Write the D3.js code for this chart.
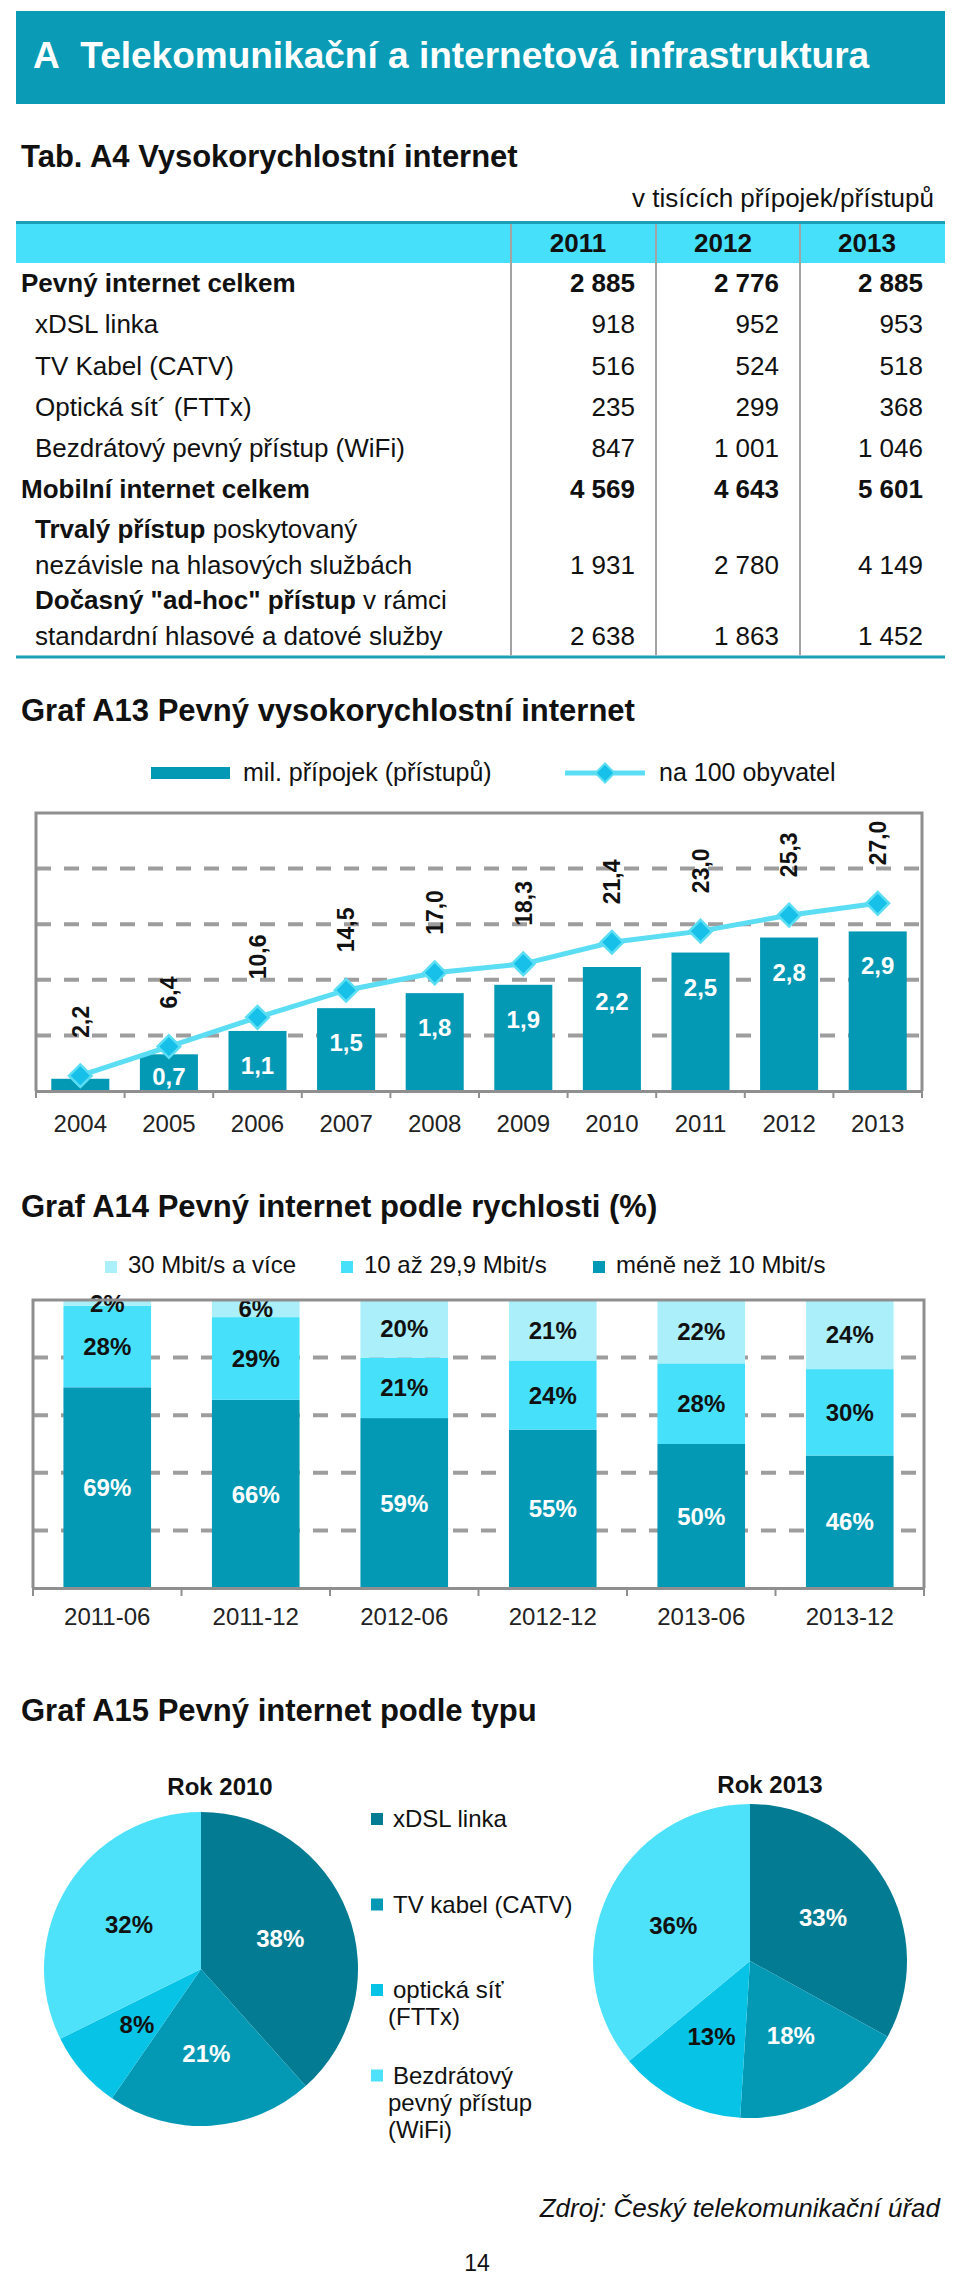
<!DOCTYPE html>
<html><head><meta charset="utf-8">
<script src="https://cdn.jsdelivr.net/npm/d3@7"></script>
<style>
body{margin:0;background:#fff;}
svg{display:block;font-family:"Liberation Sans",Arial,Helvetica,sans-serif;}
</style></head><body>
<svg id="page" width="960" height="2278"></svg>
<script>
// ---------- DATA ----------
// Tab. A4 (v tisících přípojek/přístupů)
const tableYears = ["2011", "2012", "2013"];
const tableLabels = [
  "Pevný internet celkem",
  "xDSL linka",
  "TV Kabel (CATV)",
  "Optická sít´ (FTTx)",
  "Bezdrátový pevný přístup (WiFi)",
  "Mobilní internet celkem",
  "**Trvalý přístup** poskytovaný|nezávisle na hlasových službách",
  "**Dočasný \"ad-hoc\" přístup** v rámci|standardní hlasové a datové služby"
];
const fixedTotal = [2885, 2776, 2885];
const xdslLine = [918, 952, 953];
const catvCable = [516, 524, 518];
const fttxOptic = [235, 299, 368];
const wifiFixed = [847, 1001, 1046];
const mobileTotal = [4569, 4643, 5601];
const mobilePermanent = [1931, 2780, 4149];
const mobileAdhoc = [2638, 1863, 1452];
const tableValues = [fixedTotal, xdslLine, catvCable, fttxOptic, wifiFixed, mobileTotal, mobilePermanent, mobileAdhoc];
const totalRows = [0, 5];

// Graf A13
const a13Years = ["2004","2005","2006","2007","2008","2009","2010","2011","2012","2013"];
const a13ConnMil = [0.22, 0.66, 1.08, 1.49, 1.76, 1.91, 2.23, 2.49, 2.76, 2.87];
const a13Per100 = [2.2, 6.4, 10.6, 14.5, 17.0, 18.3, 21.4, 23.0, 25.3, 27.0];
const a13Legend = ["mil. přípojek (přístupů)", "na 100 obyvatel"];

// Graf A14
const a14Periods = ["2011-06","2011-12","2012-06","2012-12","2013-06","2013-12"];
const a14Slow = [69, 66, 59, 55, 50, 46];   // méně než 10 Mbit/s
const a14Mid = [28, 29, 21, 24, 28, 30];    // 10 až 29,9 Mbit/s
const a14Fast = [2, 6, 20, 21, 22, 24];     // 30 Mbit/s a více
const a14LegendNames = ["30 Mbit/s a více", "10 až 29,9 Mbit/s", "méně než 10 Mbit/s"];

// Graf A15
const a15LegendLines = [["xDSL linka"], ["TV kabel (CATV)"], ["optická síť", "(FTTx)"], ["Bezdrátový", "pevný přístup", "(WiFi)"]];
const a15Share2010 = [38, 21, 8, 32];
const a15Share2013 = [33, 18, 13, 36];
const a15Titles = ["Rok 2010", "Rok 2013"];

// ---------- STYLE ----------
const TEAL = "#0a9cb6", BAR = "#0399b5", CYAN = "#47e0fa", LIGHT = "#aaeff9";
const LINE = "#5bddf4", DIAM = "#16c0e8";
const PIE_COLORS = ["#037b92", "#0399b5", "#07c3e5", "#4de1fa"];
const GRID = "#9d9d9d", BORDER = "#8f8f8f", TXT = "#111";

const svg = d3.select("#page");
const loc = d3.formatLocale({decimal: ",", thousands: "\u00a0", grouping: [3], currency: ["", ""]});
const fmtInt = loc.format(",d");
const fmt1 = loc.format(".1f");

// ---------- HEADER ----------
svg.append("rect").attr("x", 16).attr("y", 11).attr("width", 929).attr("height", 93).attr("fill", TEAL);
svg.append("text").attr("x", 33).attr("y", 68).attr("fill", "#fff").attr("font-size", 37).attr("font-weight", "bold")
  .text("A\u00a0\u00a0Telekomunikační a internetová infrastruktura");

// ---------- TABLE ----------
svg.append("text").attr("x", 21).attr("y", 167).attr("font-size", 31).attr("font-weight", "bold").attr("fill", TXT)
  .text("Tab. A4 Vysokorychlostní internet");
svg.append("text").attr("x", 934).attr("y", 207).attr("text-anchor", "end").attr("font-size", 26).attr("fill", TXT)
  .text("v tisících přípojek/přístupů");

const tTop = 221, tBottom = 657;
svg.append("rect").attr("x", 16).attr("y", tTop).attr("width", 929).attr("height", 42).attr("fill", CYAN);
svg.append("line").attr("x1", 16).attr("x2", 945).attr("y1", tTop + 1.5).attr("y2", tTop + 1.5).attr("stroke", "#1b9fb6").attr("stroke-width", 3);
svg.append("line").attr("x1", 16).attr("x2", 945).attr("y1", tBottom).attr("y2", tBottom).attr("stroke", "#1b9fb6").attr("stroke-width", 3);
const colSep = [511, 656, 800];
svg.selectAll(".colsep").data(colSep).join("line").attr("class", "colsep")
  .attr("x1", d => d).attr("x2", d => d).attr("y1", tTop + 3).attr("y2", tBottom - 1.5)
  .attr("stroke", "#a3a3a3").attr("stroke-width", 2);
const colCenter = [578, 723, 867], colRight = [635, 779, 923];
svg.selectAll(".colhead").data(tableYears).join("text").attr("class", "colhead")
  .attr("x", (d, i) => colCenter[i]).attr("y", 252).attr("text-anchor", "middle")
  .attr("font-size", 26).attr("font-weight", "bold").attr("fill", TXT).text(d => d);

const rowBase = [292, 333, 375, 416, 457, 498, 574, 645];
tableLabels.forEach((lab, r) => {
  const isTotal = totalRows.includes(r);
  const lines = lab.split("|");
  lines.forEach((ln, li) => {
    const y = rowBase[r] - (lines.length - 1 - li) * 36;
    const t = svg.append("text").attr("x", isTotal ? 21 : 35).attr("y", y).attr("font-size", 26).attr("fill", TXT)
      .attr("xml:space", "preserve").style("white-space", "pre");
    const parts = ln.split("**");
    parts.forEach((p, pi) => {
      if (!p) return;
      t.append("tspan").attr("font-weight", (isTotal || pi % 2 === 1) ? "bold" : "normal").text(p);
    });
  });
  tableValues[r].forEach((v, c) => {
    svg.append("text").attr("x", colRight[c]).attr("y", rowBase[r]).attr("text-anchor", "end")
      .attr("font-size", 26).attr("font-weight", isTotal ? "bold" : "normal").attr("fill", TXT).text(fmtInt(v));
  });
});

// ---------- GRAF A13 ----------
svg.append("text").attr("x", 21).attr("y", 721).attr("font-size", 31).attr("font-weight", "bold").attr("fill", TXT)
  .text("Graf A13 Pevný vysokorychlostní internet");
// legend
svg.append("rect").attr("x", 151).attr("y", 767).attr("width", 79).attr("height", 12).attr("fill", BAR);
svg.append("text").attr("x", 243).attr("y", 781).attr("font-size", 25).attr("fill", TXT).text(a13Legend[0]);
svg.append("line").attr("x1", 565).attr("x2", 645).attr("y1", 773).attr("y2", 773).attr("stroke", LINE).attr("stroke-width", 5);
svg.append("path").attr("d", d3.symbol(d3.symbolSquare, 180)()).attr("transform", "translate(605,773) rotate(45)")
  .attr("fill", DIAM).attr("stroke", LINE).attr("stroke-width", 2);
svg.append("text").attr("x", 659).attr("y", 781).attr("font-size", 25).attr("fill", TXT).text(a13Legend[1]);

const a13 = {l: 36, r: 922, t: 813, b: 1091};
const x13 = d3.scaleBand(a13Years, [a13.l, a13.r]).paddingInner(0.345).paddingOuter(0.1725);
const yBar = d3.scaleLinear([0, 5], [a13.b, a13.t]);
const yLine = d3.scaleLinear([0, 40], [a13.b, a13.t]);
const g13 = svg.append("g");
g13.selectAll(".grid").data(yBar.ticks(5).filter(d => d > 0 && d < 5)).join("line")
  .attr("x1", a13.l).attr("x2", a13.r).attr("y1", d => yBar(d)).attr("y2", d => yBar(d))
  .attr("stroke", GRID).attr("stroke-width", 4).attr("stroke-dasharray", "15,13");
g13.selectAll(".bar").data(a13ConnMil).join("rect")
  .attr("x", (d, i) => x13(a13Years[i])).attr("width", x13.bandwidth())
  .attr("y", d => yBar(d)).attr("height", d => a13.b - yBar(d)).attr("fill", BAR);
g13.selectAll(".blab").data(a13ConnMil.map((v, i) => ({v, i})).filter(d => d.v >= 0.5)).join("text")
  .attr("x", d => x13(a13Years[d.i]) + x13.bandwidth() / 2)
  .attr("y", d => Math.min(yBar(d.v) + 43, a13.b - 6))
  .attr("text-anchor", "middle").attr("font-size", 24).attr("font-weight", "bold").attr("fill", "#fff")
  .text(d => fmt1(d.v));
const cx13 = (d, i) => x13(a13Years[i]) + x13.bandwidth() / 2;
g13.append("path").datum(a13Per100)
  .attr("d", d3.line().x(cx13).y(d => yLine(d)))
  .attr("fill", "none").attr("stroke", LINE).attr("stroke-width", 5);
g13.selectAll(".dm").data(a13Per100).join("path")
  .attr("d", d3.symbol(d3.symbolSquare, 256)())
  .attr("transform", (d, i) => `translate(${cx13(d, i)},${yLine(d)}) rotate(45)`)
  .attr("fill", DIAM).attr("stroke", LINE).attr("stroke-width", 2.5);
g13.selectAll(".llab").data(a13Per100).join("text")
  .attr("transform", (d, i) => `translate(${cx13(d, i)},${yLine(d) - 38}) rotate(-90)`)
  .attr("dy", "0.36em").attr("font-size", 23).attr("font-weight", "bold").attr("fill", TXT)
  .text(d => fmt1(d));
// border & axis
g13.append("path").attr("d", `M${a13.l},${a13.b}V${a13.t}H${a13.r}V${a13.b}`).attr("fill", "none")
  .attr("stroke", BORDER).attr("stroke-width", 3);
const ax13 = g13.append("g").attr("transform", `translate(0,${a13.b})`)
  .call(d3.axisBottom(x13).tickSize(0).tickPadding(24));
ax13.select(".domain").attr("stroke", BORDER).attr("stroke-width", 3);
ax13.selectAll("text").attr("font-size", 24).attr("fill", "#222").attr("font-family", null);
g13.selectAll(".btick").data(d3.range(a13Years.length + 1)).join("line")
  .attr("x1", i => a13.l + i * x13.step()).attr("x2", i => a13.l + i * x13.step())
  .attr("y1", a13.b).attr("y2", a13.b + 7).attr("stroke", BORDER).attr("stroke-width", 2);

// ---------- GRAF A14 ----------
svg.append("text").attr("x", 21).attr("y", 1217).attr("font-size", 31).attr("font-weight", "bold").attr("fill", TXT)
  .text("Graf A14 Pevný internet podle rychlosti (%)");
const a14Colors = [LIGHT, CYAN, BAR];
const legX = [105, 341, 593];
a14LegendNames.forEach((n, i) => {
  svg.append("rect").attr("x", legX[i]).attr("y", 1261).attr("width", 12).attr("height", 12).attr("fill", a14Colors[i]);
  svg.append("text").attr("x", legX[i] + 23).attr("y", 1273).attr("font-size", 24).attr("fill", TXT).text(n);
});
const a14 = {l: 33, r: 924, t: 1300, b: 1588};
const x14 = d3.scaleBand(a14Periods, [a14.l, a14.r]).paddingInner(0.41).paddingOuter(0.205);
const y14 = d3.scaleLinear([0, 1], [a14.b, a14.t]);
const a14Rows = a14Periods.map((p, i) => ({period: p, slow: a14Slow[i], mid: a14Mid[i], fast: a14Fast[i]}));
const stack14 = d3.stack().keys(["slow", "mid", "fast"]).offset(d3.stackOffsetExpand)(a14Rows);
const col14 = {slow: BAR, mid: CYAN, fast: LIGHT};
const g14 = svg.append("g");
g14.selectAll(".grid").data(y14.ticks(4).filter(d => d > 0 && d < 1)).join("line")
  .attr("x1", a14.l).attr("x2", a14.r).attr("y1", d => y14(d)).attr("y2", d => y14(d))
  .attr("stroke", GRID).attr("stroke-width", 4).attr("stroke-dasharray", "15,13");
stack14.forEach(s => {
  g14.selectAll(".seg-" + s.key).data(s).join("rect")
    .attr("x", d => x14(d.data.period)).attr("width", x14.bandwidth())
    .attr("y", d => y14(d[1])).attr("height", d => y14(d[0]) - y14(d[1])).attr("fill", col14[s.key]);
  g14.selectAll(".lab-" + s.key).data(s).join("text")
    .attr("x", d => x14(d.data.period) + x14.bandwidth() / 2)
    .attr("y", d => (y14(d[0]) + y14(d[1])) / 2).attr("dy", "0.36em")
    .attr("text-anchor", "middle").attr("font-size", 24).attr("font-weight", "bold")
    .attr("fill", s.key === "slow" ? "#fff" : TXT)
    .text(d => d.data[s.key] + "%");
});
g14.append("path").attr("d", `M${a14.l},${a14.b}V${a14.t}H${a14.r}V${a14.b}`).attr("fill", "none")
  .attr("stroke", BORDER).attr("stroke-width", 3);
const ax14 = g14.append("g").attr("transform", `translate(0,${a14.b})`)
  .call(d3.axisBottom(x14).tickSize(0).tickPadding(20));
ax14.select(".domain").attr("stroke", BORDER).attr("stroke-width", 3);
ax14.selectAll("text").attr("font-size", 24).attr("fill", "#222").attr("font-family", null);
g14.selectAll(".btick").data(d3.range(a14Periods.length + 1)).join("line")
  .attr("x1", i => a14.l + i * x14.step()).attr("x2", i => a14.l + i * x14.step())
  .attr("y1", a14.b).attr("y2", a14.b + 8).attr("stroke", BORDER).attr("stroke-width", 2);

// ---------- GRAF A15 ----------
svg.append("text").attr("x", 21).attr("y", 1721).attr("font-size", 31).attr("font-weight", "bold").attr("fill", TXT)
  .text("Graf A15 Pevný internet podle typu");
const pies = [
  {data: a15Share2010, cx: 201, cy: 1969, r: 157, title: a15Titles[0], tx: 220, ty: 1795},
  {data: a15Share2013, cx: 750, cy: 1961, r: 157, title: a15Titles[1], tx: 770, ty: 1793}
];
const pieGen = d3.pie().sort(null).value(d => d);
pies.forEach(p => {
  const g = svg.append("g").attr("transform", `translate(${p.cx},${p.cy})`);
  const arc = d3.arc().innerRadius(0).outerRadius(p.r);
  const lab = d3.arc().innerRadius(p.r * 0.54).outerRadius(p.r * 0.54);
  const arcs = pieGen(p.data);
  g.selectAll("path").data(arcs).join("path").attr("d", arc).attr("fill", (d, i) => PIE_COLORS[i]);
  g.selectAll("text").data(arcs).join("text")
    .attr("transform", d => `translate(${lab.centroid(d)})`).attr("dy", "0.36em")
    .attr("text-anchor", "middle").attr("font-size", 24).attr("font-weight", "bold")
    .attr("fill", (d, i) => i < 2 ? "#fff" : TXT).text(d => d.data + "%");
  svg.append("text").attr("x", p.tx).attr("y", p.ty).attr("text-anchor", "middle")
    .attr("font-size", 24).attr("font-weight", "bold").attr("fill", TXT).text(p.title);
});
a15LegendLines.forEach((lines, i) => {
  const by = 1827 + i * 85.5;
  svg.append("rect").attr("x", 371).attr("y", by - 14).attr("width", 12).attr("height", 12).attr("fill", PIE_COLORS[i]);
  lines.forEach((ln, li) => {
    svg.append("text").attr("x", li === 0 ? 393 : 388).attr("y", by + li * 27)
      .attr("font-size", 24).attr("fill", TXT).text(ln);
  });
});

// ---------- SOURCE / PAGE ----------
svg.append("text").attr("x", 940).attr("y", 2217).attr("text-anchor", "end").attr("font-size", 26)
  .attr("font-style", "italic").attr("fill", TXT).text("Zdroj: Český telekomunikační úřad");
svg.append("text").attr("x", 477).attr("y", 2271).attr("text-anchor", "middle").attr("font-size", 23)
  .attr("fill", TXT).text("14");
</script>
</body></html>
